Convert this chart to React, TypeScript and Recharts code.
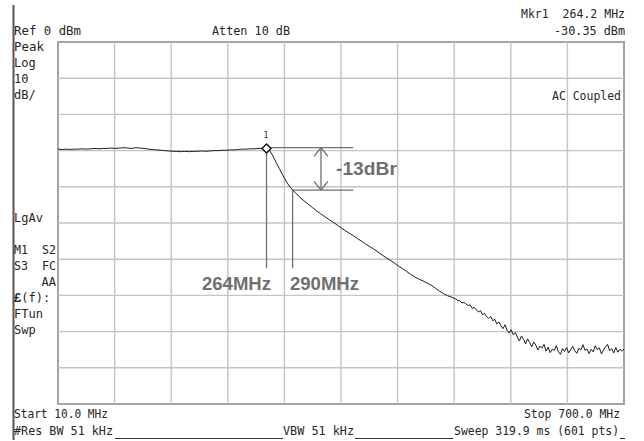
import React from "react";
import {
  LineChart,
  Line,
  XAxis,
  YAxis,
  ReferenceLine,
  ReferenceDot,
  ReferenceArea,
} from "recharts";

// Sweep: 10 MHz .. 700 MHz, Ref 0 dBm, 10 dB/div
const trace: [number, number][] = [
  [10, -29.6], [15, -29.7], [20, -29.6], [25, -29.7], [30, -29.6], [35, -29.6], [40, -29.5], [45, -29.6],
  [50, -29.5], [55, -29.4], [60, -29.5], [65, -29.4], [70, -29.4], [75, -29.3], [80, -29.4], [85, -29.3],
  [90, -29.2], [95, -29.3], [100, -29.4], [105, -29.2], [110, -29.3], [115, -29.4], [120, -29.6], [125, -29.7],
  [130, -29.8], [135, -29.9], [140, -30.0], [145, -30.1], [150, -30.2], [155, -30.2], [160, -30.3], [165, -30.2],
  [170, -30.3], [175, -30.2], [180, -30.2], [185, -30.1], [190, -30.2], [195, -30.1], [200, -30.0], [205, -30.0],
  [210, -29.9], [215, -29.9], [220, -29.8], [225, -29.8], [230, -29.7], [235, -29.6], [240, -29.6], [245, -29.5],
  [250, -29.5], [255, -29.4], [260, -29.3], [264.2, -29.4], [268, -30.0], [272, -31.5], [276, -33.3], [280, -35.0],
  [284, -36.8], [288, -38.4], [292, -39.8], [296, -40.9], [300, -41.8], [305, -42.9], [310, -43.9], [315, -44.8],
  [320, -45.7], [325, -46.6], [330, -47.4], [335, -48.2], [340, -49.0], [345, -49.7], [350, -50.5], [355, -51.3],
  [360, -52.1], [365, -52.8], [370, -53.5], [375, -54.3], [380, -55.0], [385, -55.8], [390, -56.5], [395, -57.2],
  [400, -58.0], [405, -58.8], [410, -59.6], [415, -60.3], [420, -61.0], [425, -61.9], [430, -62.6], [435, -63.4],
  [440, -64.2], [445, -64.9], [450, -65.5], [455, -66.0], [460, -66.6], [465, -67.2], [470, -68.0], [475, -68.8],
  [480, -69.5], [485, -70.1], [490, -70.5], [495, -71.0], [497.5, -71.4], [500, -71.5], [502.5, -72.1], [505, -71.9],
  [507.5, -72.4], [510, -72.8], [512.5, -72.6], [515, -73.6], [517.5, -73.3], [520, -74.0], [522.5, -74.6], [525, -74.2],
  [527.5, -75.3], [530, -75.0], [532.5, -75.9], [535, -76.4], [537.5, -75.8], [540, -77.0], [542.5, -76.6], [545, -77.9],
  [547.5, -77.3], [550, -78.4], [552.5, -79.2], [555, -78.1], [557.5, -79.6], [560, -80.4], [562.5, -79.5], [565, -80.9],
  [567.5, -80.2], [570, -81.5], [572.5, -82.6], [575, -81.2], [577.5, -82.1], [580, -83.4], [582.5, -82.0], [585, -83.0],
  [587.5, -84.2], [590, -82.9], [592.5, -83.7], [595, -85.1], [597.5, -84.0], [600, -84.6], [602.5, -83.5], [605, -85.4],
  [607.5, -84.3], [610, -85.8], [612.5, -84.9], [615, -85.2], [617.5, -83.9], [620, -85.6], [622.5, -86.3], [625, -84.7],
  [627.5, -85.5], [630, -84.4], [632.5, -85.9], [635, -85.0], [637.5, -84.1], [640, -85.3], [642.5, -86.0], [645, -84.6],
  [647.5, -85.1], [650, -83.6], [652.5, -85.2], [655, -84.8], [657.5, -86.1], [660, -84.9], [662.5, -85.6], [665, -83.9],
  [667.5, -85.0], [670, -84.5], [672.5, -86.2], [675, -85.1], [677.5, -84.2], [680, -83.5], [682.5, -85.3], [685, -84.7],
  [687.5, -85.9], [690, -84.4], [692.5, -85.7], [695, -84.9], [697.5, -85.4], [700, -84.8],
];

const xTicks = [10, 79, 148, 217, 286, 355, 424, 493, 562, 631, 700];
const yTicks = [-100, -90, -80, -70, -60, -50, -40, -30, -20, -10, 0];

// Annotation values
const markerFreq = 264.2;
const markerLevel = -29.4;
const cutoffFreq = 296;
const cutoffLevel = -40.9;
const bracketTop = -29.2;
const bracketEnd = 370;
const arrowFreq = 330.6;
const leaderBottom = -62.5;

const data = trace.map(([f, v]) => ({ f, v }));

const MONO = "'DejaVu Sans Mono', 'Liberation Mono', monospace";
const SANS = "'Liberation Sans', Arial, sans-serif";
const TXT = "#262626";
const ANN = "#707070";
const GRID = "#c4c4c4";

type T = { s: string; x: number; y: number; w?: number; anchor?: "start" | "end" };
const texts: T[] = [
  { s: "Ref 0 dBm", x: 14, y: 35, w: 67 },
  { s: "Atten 10 dB", x: 212, y: 35, w: 78 },
  { s: "Mkr1  264.2 MHz", x: 625, y: 18, w: 104, anchor: "end" },
  { s: "-30.35 dBm", x: 625, y: 35, w: 71, anchor: "end" },
  { s: "Peak", x: 14, y: 51, w: 30 },
  { s: "Log", x: 14, y: 67 },
  { s: "10", x: 14, y: 83 },
  { s: "dB/", x: 14, y: 99 },
  { s: "AC Coupled", x: 621, y: 100, w: 69, anchor: "end" },
  { s: "LgAv", x: 14, y: 222 },
  { s: "M1  S2", x: 14, y: 254, w: 42 },
  { s: "S3  FC", x: 14, y: 270, w: 42 },
  { s: "AA", x: 56, y: 286, anchor: "end" },
  { s: "FTun", x: 14, y: 318 },
  { s: "Swp", x: 14, y: 334 },
  { s: "Start 10.0 MHz", x: 14, y: 418, w: 94 },
  { s: "#Res BW 51 kHz", x: 14, y: 435, w: 99 },
  { s: "VBW 51 kHz", x: 283, y: 435, w: 71 },
  { s: "Stop 700.0 MHz", x: 620, y: 418, w: 96, anchor: "end" },
  { s: "Sweep 319.9 ms (601 pts)", x: 619, y: 435, w: 165, anchor: "end" },
];

const annLine = { stroke: ANN, strokeWidth: 1.3 };

const Diamond = (props: any) => {
  const { cx, cy } = props;
  const h = 4.5;
  return (
    <path
      d={`M${cx},${cy - h} L${cx + h},${cy} L${cx},${cy + h} L${cx - h},${cy} Z`}
      fill="#fff"
      stroke="#111"
      strokeWidth={1.4}
    />
  );
};

export default function App() {
  return (
    <div style={{ position: "absolute", left: 0, top: 0, width: 644, height: 441, background: "#fff" }}>
      <LineChart
        width={644}
        height={441}
        data={data}
        margin={{ top: 42, right: 20, bottom: 37, left: 58 }}
      >
        <XAxis
          dataKey="f"
          type="number"
          domain={[10, 700]}
          ticks={xTicks}
          tick={false}
          tickLine={false}
          axisLine={false}
          height={0}
        />
        <YAxis
          type="number"
          domain={[-100, 0]}
          ticks={yTicks}
          tick={false}
          tickLine={false}
          axisLine={false}
          width={0}
        />
        {xTicks.slice(1, -1).map((t) => (
          <ReferenceLine key={"x" + t} x={t} stroke={GRID} strokeWidth={1.4} />
        ))}
        {yTicks.slice(1, -1).map((t) => (
          <ReferenceLine key={"y" + t} y={t} stroke={GRID} strokeWidth={1.4} />
        ))}
        <ReferenceArea x1={10} x2={700} y1={-100} y2={0} fill="none" stroke="#a4a4a4" strokeWidth={2} />
        {/* marker leader & bracket */}
        <ReferenceLine segment={[{ x: markerFreq, y: markerLevel }, { x: markerFreq, y: leaderBottom }]} {...annLine} />
        <ReferenceLine segment={[{ x: cutoffFreq, y: cutoffLevel }, { x: cutoffFreq, y: leaderBottom }]} {...annLine} />
        <ReferenceLine segment={[{ x: markerFreq, y: bracketTop }, { x: bracketEnd, y: bracketTop }]} {...annLine} />
        <ReferenceLine segment={[{ x: cutoffFreq, y: cutoffLevel }, { x: bracketEnd, y: cutoffLevel }]} {...annLine} />
        <ReferenceLine segment={[{ x: arrowFreq, y: bracketTop }, { x: arrowFreq, y: cutoffLevel }]} {...annLine} />
        <ReferenceLine segment={[{ x: arrowFreq - 8.5, y: bracketTop - 2.4 }, { x: arrowFreq, y: bracketTop }]} {...annLine} />
        <ReferenceLine segment={[{ x: arrowFreq + 8.5, y: bracketTop - 2.4 }, { x: arrowFreq, y: bracketTop }]} {...annLine} />
        <ReferenceLine segment={[{ x: arrowFreq - 8.5, y: cutoffLevel + 2.4 }, { x: arrowFreq, y: cutoffLevel }]} {...annLine} />
        <ReferenceLine segment={[{ x: arrowFreq + 8.5, y: cutoffLevel + 2.4 }, { x: arrowFreq, y: cutoffLevel }]} {...annLine} />
        <Line
          dataKey="v"
          type="linear"
          stroke="#1c1c1c"
          strokeWidth={1}
          dot={false}
          isAnimationActive={false}
        />
        <ReferenceDot x={markerFreq} y={markerLevel} r={4} shape={Diamond} />
      </LineChart>
      <svg
        width={644}
        height={441}
        style={{ position: "absolute", left: 0, top: 0, pointerEvents: "none" }}
      >
        <line x1={13.5} y1={5} x2={13.5} y2={440} stroke="#555" strokeWidth={2} />
        <line x1={115} y1={438.5} x2={283} y2={438.5} stroke="#333" strokeWidth={1} />
        <line x1={355} y1={438.5} x2={453} y2={438.5} stroke="#333" strokeWidth={1} />
        <line x1={620} y1={438.5} x2={625} y2={438.5} stroke="#333" strokeWidth={1} />
        {texts.map((t, i) => (
          <text
            key={i}
            x={t.x}
            y={t.y}
            textAnchor={t.anchor || "start"}
            fontFamily={MONO}
            fontSize={12}
            fill={TXT}
            textLength={t.w}
            lengthAdjust={t.w ? "spacingAndGlyphs" : undefined}
            style={{ whiteSpace: "pre" }}
          >
            {t.s}
          </text>
        ))}
        <text x={14} y={302} fontFamily={MONO} fontSize={12} fill={TXT}>
          <tspan fontWeight="bold" fontFamily={SANS} fontSize={13}>£</tspan>
          <tspan>(f):</tspan>
        </text>
        <text x={266} y={138} textAnchor="middle" fontFamily={MONO} fontSize={8} fill="#222">1</text>
        <text x={202} y={290} fontFamily={SANS} fontWeight="bold" fontSize={18} fill={ANN} textLength={69} lengthAdjust="spacingAndGlyphs">264MHz</text>
        <text x={290} y={290} fontFamily={SANS} fontWeight="bold" fontSize={18} fill={ANN} textLength={69} lengthAdjust="spacingAndGlyphs">290MHz</text>
        <text x={336} y={175} fontFamily={SANS} fontWeight="bold" fontSize={18} fill={ANN} textLength={61} lengthAdjust="spacingAndGlyphs">-13dBr</text>
      </svg>
    </div>
  );
}
